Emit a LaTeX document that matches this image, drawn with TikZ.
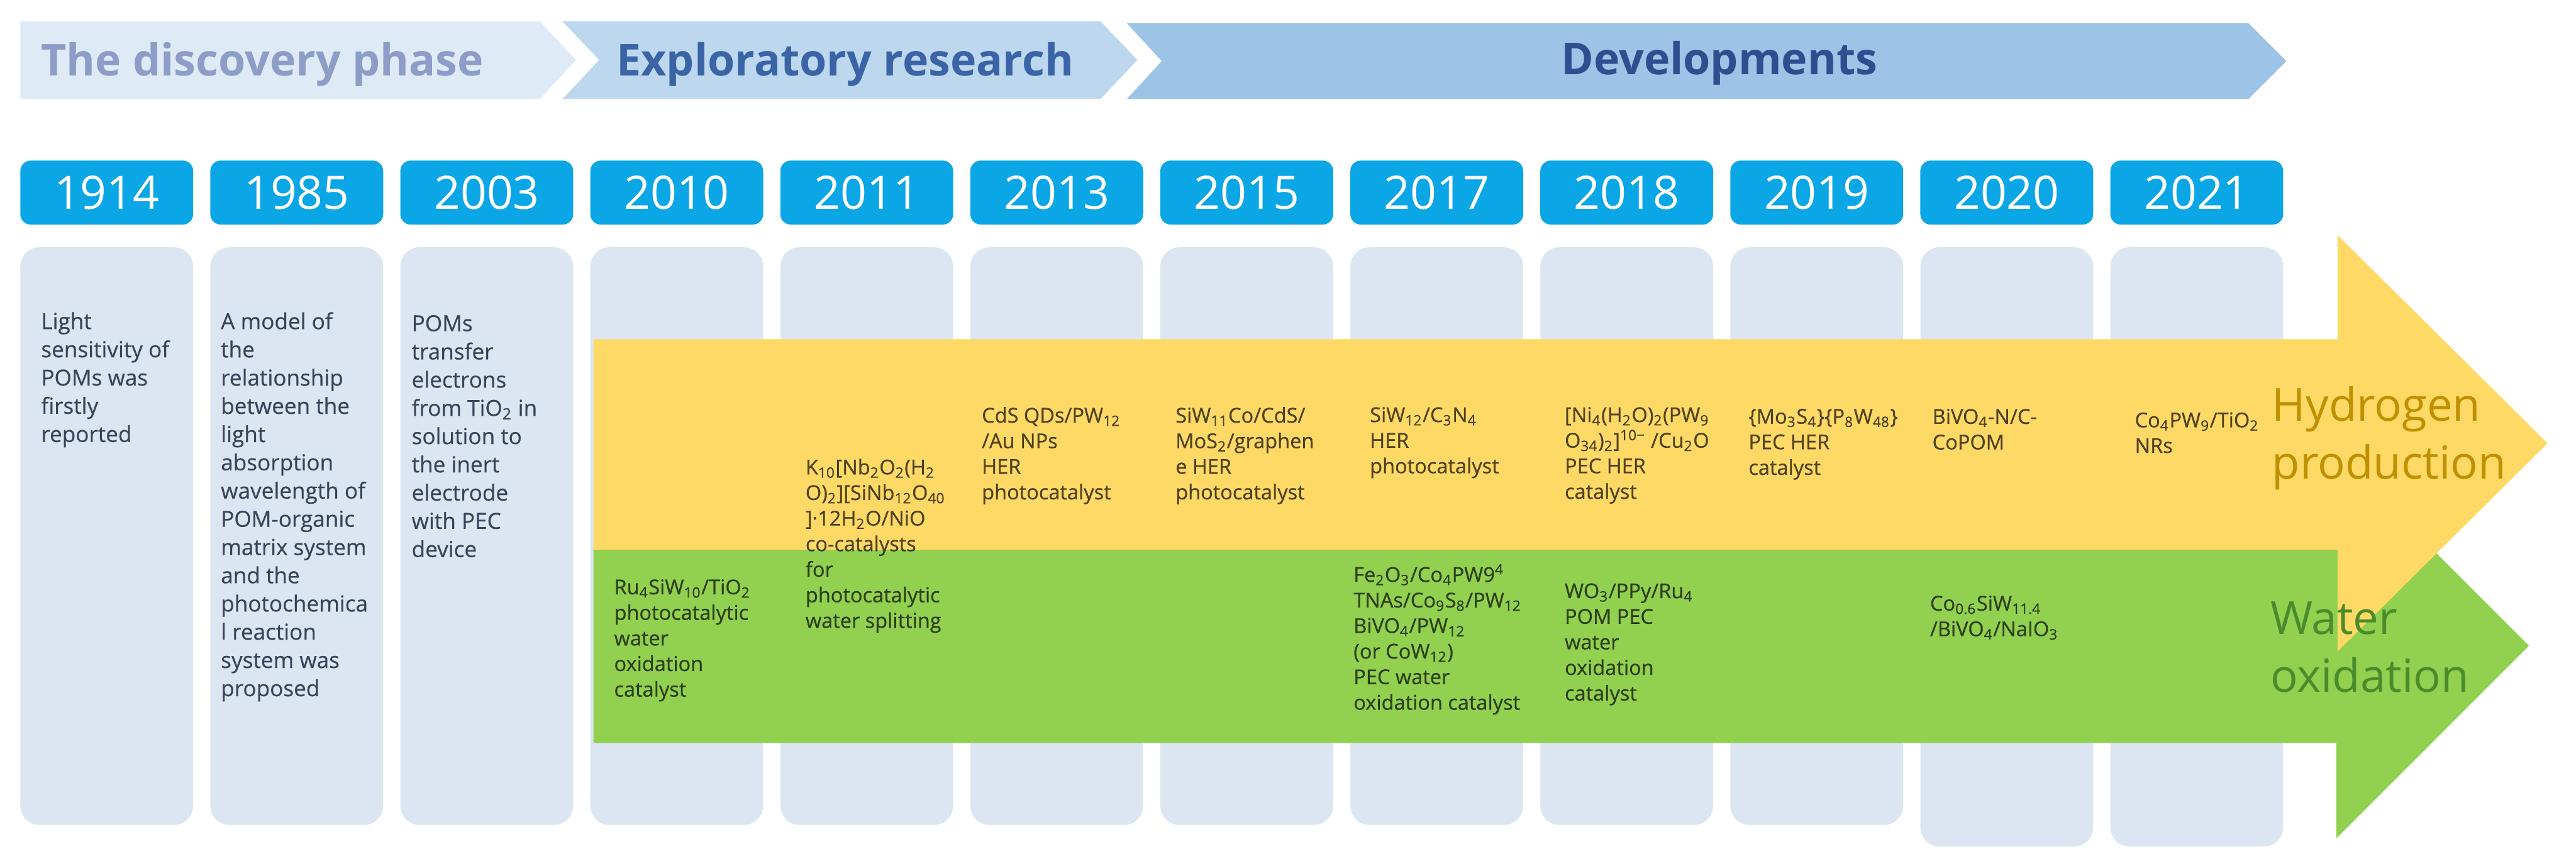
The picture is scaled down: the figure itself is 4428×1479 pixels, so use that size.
\documentclass[tikz,border=0pt]{standalone}
\usepackage{fontspec}
\setmainfont{Open Sans}
\newfontfamily\bodyf{Open Sans}[FakeBold=0.5]
\definecolor{ph1}{HTML}{DEEBF7}
\definecolor{ph2}{HTML}{BDD7EE}
\definecolor{ph3}{HTML}{9DC3E6}
\definecolor{ph1t}{HTML}{8E9CC8}
\definecolor{ph2t}{HTML}{3A64A6}
\definecolor{ph3t}{HTML}{2F4E8F}
\definecolor{yearblue}{HTML}{0AA6E6}
\definecolor{colbg}{HTML}{DCE6F2}
\definecolor{hyel}{HTML}{FFD966}
\definecolor{wgreen}{HTML}{92D050}
\definecolor{htext}{HTML}{BF9000}
\definecolor{wtext}{HTML}{4A8B2C}
\definecolor{ctext}{HTML}{38445A}
\newcommand{\sbs}[1]{\textsubscript{#1}}
\newcommand{\sps}[1]{\textsuperscript{#1}}
\tikzset{
  yearbox/.style={fill=yearblue, rounded corners=0.18cm, minimum width=2.97cm, minimum height=1.1cm, inner sep=0pt, text=white, font=\fontsize{22.5}{26}\selectfont},
  colbox/.style={fill=colbg, rounded corners=0.33cm},
  phase/.style={anchor=base west, inner sep=0pt, font=\fontsize{21.5}{26}\selectfont\bfseries},
  coltext/.style={anchor=north west, align=left, inner sep=0pt, text=ctext, font=\bodyf\fontsize{10.8}{13.8}\selectfont},
  bandtext/.style={anchor=north west, align=left, inner sep=0pt, text=black, text opacity=0.68, font=\bodyf\fontsize{10}{12.5}\selectfont},
  bigtext/.style={anchor=north west, align=left, inner sep=0pt, font=\fontsize{22.3}{28}\selectfont}
}
\begin{document}
\begin{tikzpicture}[x=0.01cm,y=-0.01cm]
\useasboundingbox (0,0) rectangle (4428,1479);
\fill[white] (0,0) rectangle (4428,1479);
% phase banner
\fill[ph1] (35,37) -- (928,37) -- (990,103) -- (928,170) -- (35,170) -- cycle;
\fill[ph2] (967,37) -- (1892,37) -- (1955,103) -- (1892,170) -- (967,170) -- (1030,103) -- cycle;
\fill[ph3] (1937,40) -- (3865,40) -- (3930,105) -- (3865,170) -- (1937,170) -- (1997,105) -- cycle;
\node[phase, text=ph1t] (p1) at (70,130) {The discovery phase};
\node[phase, text=ph2t] (p2) at (1059,130) {Exploratory research};
\node[phase, text=ph3t] (p3) at (2683,128) {Developments};
% years and columns
\foreach \i/\yr in {0/1914,1/1985,2/2003,3/2010,4/2011,5/2013,6/2015,7/2017,8/2018,9/2019,10/2020,11/2021}{
  \node[yearbox] (y\yr) at ({35+326.6*\i+148.5},331) {\yr};
  \ifnum\i<10
    \fill[colbox] ({35+326.6*\i},425) rectangle ++(297,993);
  \else
    \fill[colbox] ({35+326.6*\i},425) rectangle ++(297,1030);
  \fi
}
% bands
\fill[wgreen] (1020,945) -- (4016,945) -- (4016,779) -- (4347,1110) -- (4016,1441) -- (4016,1277) -- (1020,1277) -- cycle;
\fill[hyel] (1020,583) -- (4018,583) -- (4018,404) -- (4379,762) -- (4018,1120) -- (4018,945) -- (1020,945) -- cycle;
% column texts
\node[coltext] (t1914) at (70,536) {Light\\sensitivity of\\POMs was\\firstly\\reported};
\node[coltext] (t1985) at (379,536) {A model of\\the\\relationship\\between the\\light\\absorption\\wavelength of\\POM-organic\\matrix system\\and the\\photochemica\\l reaction\\system was\\proposed};
\node[coltext] (t2003) at (707,541) {POMs\\transfer\\electrons\\from TiO\sbs{2} in\\solution to\\the inert\\electrode\\with PEC\\device};
\node[bandtext] (t2010) at (1055,995) {Ru\sbs{4}SiW\sbs{10}/TiO\sbs{2}\\photocatalytic\\water\\oxidation\\catalyst};
\node[bandtext] (t2011) at (1384,788) {K\sbs{10}[Nb\sbs{2}O\sbs{2}(H\sbs{2}\\O)\sbs{2}][SiNb\sbs{12}O\sbs{40}\\]·12H\sbs{2}O/NiO\\co-catalysts\\for\\photocatalytic\\water splitting};
\node[bandtext] (t2013) at (1687,699) {CdS QDs/PW\sbs{12}\\/Au NPs\\HER\\photocatalyst};
\node[bandtext] (t2015) at (2020,699) {SiW\sbs{11}Co/CdS/\\MoS\sbs{2}/graphen\\e HER\\photocatalyst};
\node[bandtext] (t2017a) at (2354,699) {SiW\sbs{12}/C\sbs{3}N\sbs{4}\\HER\\photocatalyst};
\node[bandtext] (t2017b) at (2326,969) {Fe\sbs{2}O\sbs{3}/Co\sbs{4}PW9\sps{4}\\TNAs/Co\sbs{9}S\sbs{8}/PW\sbs{12}\\BiVO\sbs{4}/PW\sbs{12}\\(or CoW\sbs{12})\\PEC water\\oxidation catalyst};
\node[bandtext] (t2018a) at (2689,699) {[Ni\sbs{4}(H\sbs{2}O)\sbs{2}(PW\sbs{9}\\O\sbs{34})\sbs{2}]\sps{10−} /Cu\sbs{2}O\\PEC HER\\catalyst};
\node[bandtext] (t2018b) at (2689,1002) {WO\sbs{3}/PPy/Ru\sbs{4}\\POM PEC\\water\\oxidation\\catalyst};
\node[bandtext] (t2019) at (3005,702) {\{Mo\sbs{3}S\sbs{4}\}\{P\sbs{8}W\sbs{48}\}\\PEC HER\\catalyst};
\node[bandtext] (t2020a) at (3321,702) {BiVO\sbs{4}-N/C-\\CoPOM};
\node[bandtext] (t2020b) at (3317,1023) {Co\sbs{0.6}SiW\sbs{11.4}\\/BiVO\sbs{4}/NaIO\sbs{3}};
\node[bandtext] (t2021) at (3669,708) {Co\sbs{4}PW\sbs{9}/TiO\sbs{2}\\NRs};
% arrow labels
\node[bigtext, text=htext] (hyd) at (3905,664) {Hydrogen\\production};
\node[bigtext, text=wtext] (wat) at (3902,1034) {Water\\oxidation};
\end{tikzpicture}
\end{document}
